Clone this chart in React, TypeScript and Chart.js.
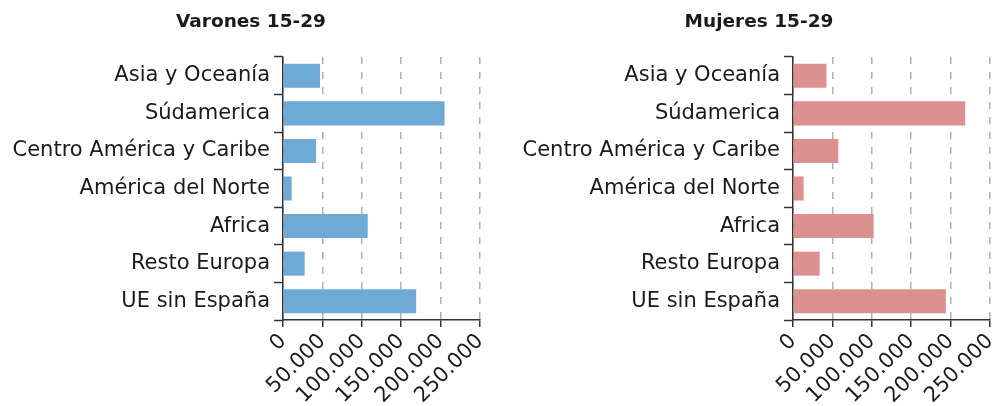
import React, { useEffect, useRef } from "react";
import { Chart, registerables } from "chart.js";

Chart.register(...registerables);

const categories = [
  "Asia y Oceanía",
  "Súdamerica",
  "Centro América y Caribe",
  "América del Norte",
  "Africa",
  "Resto Europa",
  "UE sin España",
];

const varonesTitle = "Varones 15-29";
const mujeresTitle = "Mujeres 15-29";

const varonesValues = [47000, 205000, 42000, 11000, 107500, 27500, 169000];
const mujeresValues = [42500, 218500, 57500, 13500, 102400, 33900, 194000];

const tickValues = [0, 50000, 100000, 150000, 200000, 250000];

const FONT = "'DejaVu Sans', sans-serif";
const TEXT = "#1a1a1a";
const DARK = "#333333";

function fmt(v: number): string {
  const s = Math.round(v).toString();
  return s.replace(/\B(?=(\d{3})+(?!\d))/g, ".");
}

function makeConfig(title: string, values: number[], color: string, yWidth: number, padRight: number): any {
  return {
    type: "bar",
    data: {
      labels: categories,
      datasets: [
        {
          data: values,
          backgroundColor: color,
          borderWidth: 0,
          barPercentage: 0.8,
          categoryPercentage: 0.8,
        },
      ],
    },
    options: {
      indexAxis: "y",
      animation: false,
      responsive: false,
      maintainAspectRatio: false,
      layout: { padding: 0 },
      plugins: {
        legend: { display: false },
        tooltip: { enabled: false },
        title: {
          display: true,
          text: title,
          color: TEXT,
          font: { family: FONT, size: 18.5, weight: "bold" },
          padding: { top: 11.5, bottom: 23.3 },
        },
      },
      scales: {
        x: {
          min: tickValues[0],
          max: tickValues[tickValues.length - 1],
          afterBuildTicks: (scale: any) => {
            scale.ticks = tickValues.map((v) => ({ value: v }));
          },
          afterFit: (scale: any) => {
            scale.height = 86;
            scale.paddingLeft = 0;
            scale.paddingRight = padRight;
          },
          ticks: {
            minRotation: 45,
            maxRotation: 45,
            autoSkip: false,
            color: TEXT,
            padding: 2,
            font: { family: FONT, size: 21 },
            callback: (v: any) => fmt(Number(v)),
          },
          grid: {
            color: "#b0b0b0",
            lineWidth: 1.5,
            drawOnChartArea: true,
            drawTicks: true,
            tickLength: 7,
            tickColor: DARK,
            tickWidth: 1.5,
            tickBorderDash: [],
          },
          border: { display: true, color: DARK, width: 1.5, dash: [7, 8] },
        },
        y: {
          afterFit: (scale: any) => {
            scale.width = yWidth;
            scale.paddingTop = 0;
            scale.paddingBottom = 0;
          },
          ticks: {
            color: TEXT,
            padding: 4,
            font: { family: FONT, size: 21 },
          },
          grid: {
            drawOnChartArea: false,
            drawTicks: true,
            tickLength: 9,
            tickColor: DARK,
            tickWidth: 1.5,
            offset: true,
          },
          border: { display: true, color: DARK, width: 1.5 },
        },
      },
    },
  };
}

function BarChart(props: { left: number; width: number; title: string; values: number[]; color: string; yWidth: number; padRight: number }) {
  const ref = useRef<HTMLCanvasElement | null>(null);
  useEffect(() => {
    if (!ref.current) return;
    const chart = new Chart(ref.current, makeConfig(props.title, props.values, props.color, props.yWidth, props.padRight));
    return () => chart.destroy();
  }, []);
  return (
    <canvas
      ref={ref}
      width={props.width}
      height={406}
      style={{ position: "absolute", left: props.left, top: 0, width: props.width, height: 406 }}
    />
  );
}

export default function App() {
  return (
    <div style={{ position: "absolute", left: 0, top: 0, width: 998, height: 406, background: "#ffffff", overflow: "hidden" }}>
      <BarChart left={0} width={502} title={varonesTitle} values={varonesValues} color="#6faad7" yWidth={283} padRight={22} />
      <BarChart left={520} width={478} title={mujeresTitle} values={mujeresValues} color="#dc908f" yWidth={273} padRight={8} />
    </div>
  );
}
